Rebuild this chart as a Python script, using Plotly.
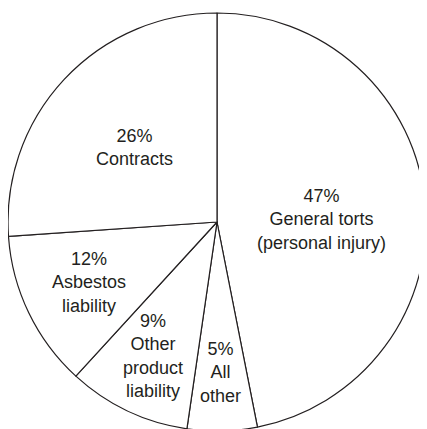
import math
import plotly.graph_objects as go

# categories and shares, clockwise from 12 o'clock
categories = ["General torts<br>(personal injury)", "All<br>other",
              "Other<br>product<br>liability", "Asbestos<br>liability", "Contracts"]
pct_labels = [47, 5, 9, 12, 26]
# slice sizes (labels are rounded)
shares = [46.9, 5.4, 9.5, 12.1, 26.1]

# how far out (fraction of radius) each label sits, plus a small vertical nudge
label_radius = [0.50, 0.71, 0.71, 0.68, 0.54]
label_yshift = [-8, -2, 0, 1, -2]

ink = "#231f20"

fig = go.Figure()
fig.add_trace(go.Pie(
    values=shares,
    textinfo="none",
    sort=False,
    direction="clockwise",
    rotation=0,
    marker=dict(colors=["white"] * len(shares), line=dict(color=ink, width=1.2)),
    hoverinfo="none",
    showlegend=False,
))

# labels at the middle angle of each slice
total = sum(shares)
start = 0
for p, c, v, rf, ys in zip(pct_labels, categories, shares, label_radius, label_yshift):
    mid = (start + v / 2) / total * 2 * math.pi
    start += v
    fig.add_annotation(
        x=0.5 + 0.5 * rf * math.sin(mid),
        y=0.5 + 0.5 * rf * math.cos(mid),
        xref="paper", yref="paper",
        xanchor="center", yanchor="middle",
        yshift=ys,
        text=f"{p}%<br>{c}",
        showarrow=False,
        font=dict(family="Liberation Sans, Arial", size=18, color=ink),
    )

# page body has an 8px margin, so the figure sits 8px in from the corner
fig.update_layout(width=418, height=423,
    paper_bgcolor="white",
    plot_bgcolor="white",
    margin=dict(l=0, r=0, t=5, b=0),
)

fig.write_html("out.html")
